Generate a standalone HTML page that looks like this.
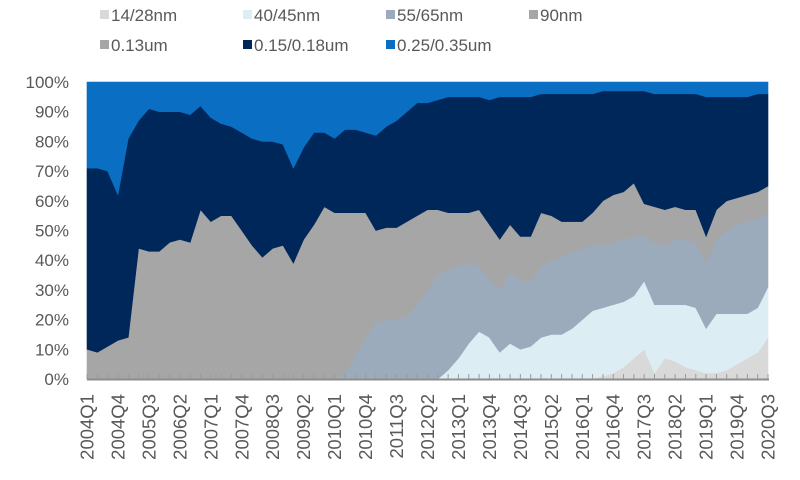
<!DOCTYPE html>
<html><head><meta charset="utf-8"><style>
html,body{margin:0;padding:0;background:#fff;width:800px;height:480px;overflow:hidden}
svg{display:block;font-family:"Liberation Sans",Arial,sans-serif}
</style></head><body>
<svg id="chart" width="800" height="480" viewBox="0 0 800 480">
<g id="legend"></g>
<g id="areas"></g>
<g id="yaxis"></g>
<g id="xaxis"></g>
</svg>
<script>
const seriesNames = ["14/28nm","40/45nm","55/65nm","90nm","0.13um","0.15/0.18um","0.25/0.35um"];
const seriesColors = ["#d9d9d9","#dcedf4","#9babbc","#a6a6a6","#a6a6a6","#00275a","#0a6fc2"];
const s14 = [0,0,0,0,0,0,0,0,0,0,0,0,0,0,0,0,0,0,0,0,0,0,0,0,0,0,0,0,0,0,0,0,0,0,0,0,0,0,0,0,0,0,0,0,0,0,0,0,0,0,1,2,4,7,10,2,7,6,4,3,2,2,3,5,7,9,14];
const s40 = [0,0,0,0,0,0,0,0,0,0,0,0,0,0,0,0,0,0,0,0,0,0,0,0,0,0,0,0,0,0,0,0,0,0,0,3,7,12,16,14,9,12,10,11,14,15,15,17,20,23,23,23,22,21,23,23,18,19,21,21,15,20,19,17,15,15,17];
const s55 = [0,0,0,0,0,0,0,0,0,0,0,0,0,0,0,0,0,0,0,0,0,0,0,0,0,2,8,14,19,20,20,21,25,30,35,34,31,27,22,20,21,24,23,22,24,25,26,26,24,22,21,21,21,20,15,21,20,22,22,22,22,25,28,30,31,30,25];
const s90 = [0,0,0,0,0,0,0,0,3,5,7,10,12,14,16,17,18,18,20,22,20,24,27,30,30,30,28,25,20,20,20,20,19,17,14,12,11,10,11,10,9,9,8,8,10,8,6,5,5,6,8,8,8,9,6,6,6,6,5,6,5,5,5,5,5,5,5];
const s13 = [10,9,11,13,14,44,43,43,43,42,39,47,41,41,39,33,27,23,24,23,19,23,25,28,26,24,20,17,11,11,11,12,11,10,8,7,7,7,8,8,8,7,7,7,8,7,6,5,4,5,7,8,8,9,5,6,6,5,5,5,4,5,5,4,4,4,4];
const s15 = [61,62,59,49,67,43,48,47,44,43,43,35,35,31,30,33,36,39,36,34,32,31,31,25,25,28,28,27,32,34,36,37,38,36,37,39,39,39,38,42,48,43,47,47,40,41,43,43,43,40,37,35,34,31,38,38,39,38,39,39,47,38,35,34,33,33,31];
const s25 = [29,29,30,38,19,13,9,10,10,10,11,8,12,14,15,17,19,20,20,21,29,22,17,17,19,16,16,17,18,15,13,10,7,7,6,5,5,5,5,6,5,5,5,5,4,4,4,4,4,4,3,3,3,3,3,4,4,4,4,4,5,5,5,5,5,4,4];
const yTicks = [0,10,20,30,40,50,60,70,80,90,100];
const startYear = 2004, startQ = 1;

const NS="http://www.w3.org/2000/svg";
const series=[s14,s40,s55,s90,s13,s15,s25];
const n=s14.length;
const X0=87,X1=768,Y0=379,Y1=82;
const xScale=i=>X0+(X1-X0)*i/(n-1);
const yScale=v=>Y0-(Y0-Y1)*v/100;
function mk(tag,attrs,parent){const e=document.createElementNS(NS,tag);for(const k in attrs)e.setAttribute(k,attrs[k]);parent.appendChild(e);return e;}

const totals=[];
for(let i=0;i<n;i++){let t=0;for(const s of series)t+=s[i];totals.push(t);}
const areas=document.getElementById('areas');
let lower=new Array(n).fill(0);
series.forEach((s,k)=>{
  const upper=lower.map((v,i)=>v+s[i]/totals[i]*100);
  let d='';
  for(let i=0;i<n;i++)d+=(i?'L':'M')+xScale(i).toFixed(2)+','+yScale(upper[i]).toFixed(2);
  for(let i=n-1;i>=0;i--)d+='L'+xScale(i).toFixed(2)+','+yScale(lower[i]).toFixed(2);
  d+='Z';
  const p=mk('path',{d:d,fill:seriesColors[k],stroke:seriesColors[k],'stroke-width':0.6},areas);
  
  
  lower=upper;
});

const ya=document.getElementById('yaxis');
yTicks.forEach(v=>{
  const t=mk('text',{x:69,y:yScale(v)+6,'text-anchor':'end','font-size':17,fill:'#595959'},ya);
  t.textContent=v+'%';
  
  
});

const xa=document.getElementById('xaxis');
const base=mk('line',{x1:X0,y1:Y0+0.5,x2:X1+1,y2:Y0+0.5,stroke:'#8c8c8c','stroke-width':2},xa);


for(let i=0;i<n;i++){
  const tk=mk('line',{x1:xScale(i),y1:Y0-5,x2:xScale(i),y2:Y0,stroke:'#9a9a9a','stroke-width':1},xa);
  
  
  if(i%3===0){
    const q=startQ-1+i, yr=startYear+Math.floor(q/4), qq=q%4+1;
    const xx=xScale(i)+6.5;
    const t=mk('text',{x:xx,y:394,transform:'rotate(-90 '+xx+' 394)','text-anchor':'end','font-size':18.5,fill:'#595959'},xa);
    t.textContent=yr+'Q'+qq;
    
    
  }
}

const lg=document.getElementById('legend');
const legPos=[[100,15],[243,15],[386,15],[529,15],[100,45],[243,45],[386,45]];
seriesNames.forEach((nm,k)=>{
  const g=mk('g',{},lg);
  
  
  mk('rect',{x:legPos[k][0],y:legPos[k][1]-5,width:9,height:9,fill:seriesColors[k]},g);
  const t=mk('text',{x:legPos[k][0]+11,y:legPos[k][1]+6,'font-size':17,fill:'#595959'},g);
  t.textContent=nm;
});
</script>
</body></html>
